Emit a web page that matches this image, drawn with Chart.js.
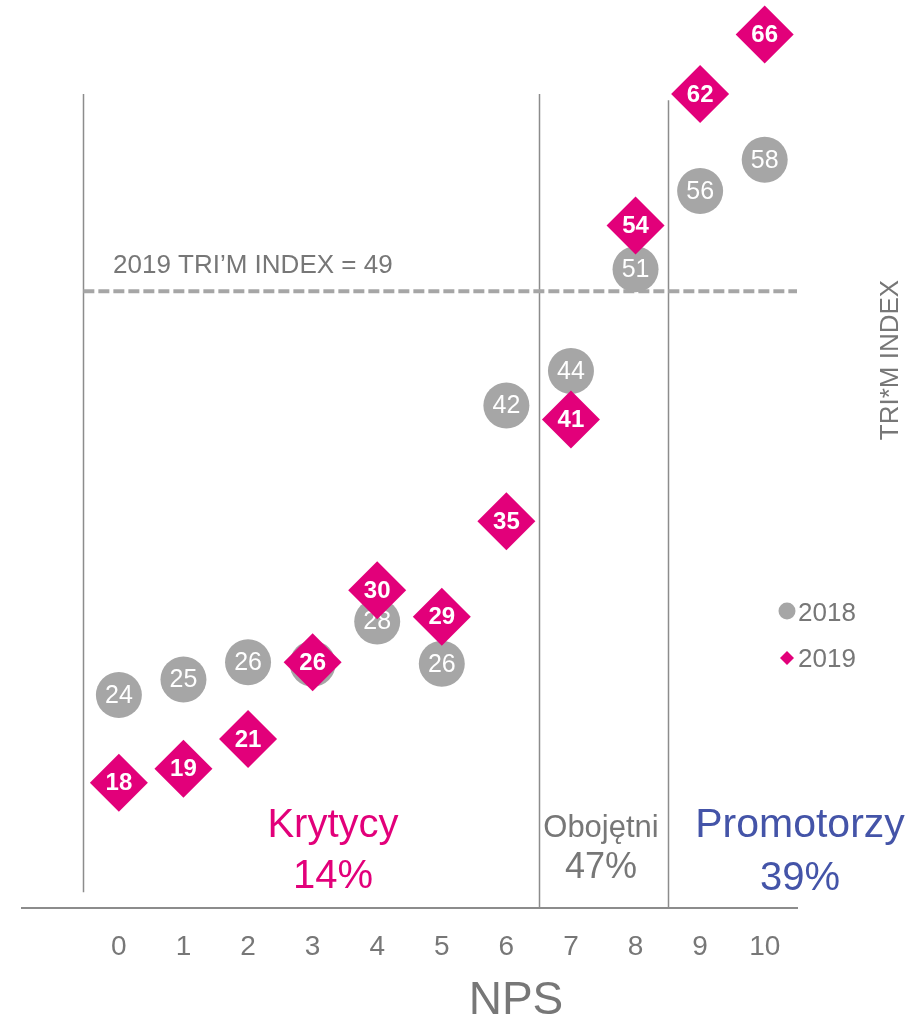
<!DOCTYPE html>
<html>
<head>
<meta charset="utf-8">
<script src="https://cdn.jsdelivr.net/npm/chart.js@4.4.1/dist/chart.umd.min.js"></script>
<style>
  html, body { margin: 0; padding: 0; background: #ffffff; }
  canvas { display: block; }
</style>
</head>
<body>
<canvas id="c" width="919" height="1021"></canvas>
<script>
// ---- data ----
const categories = [0, 1, 2, 3, 4, 5, 6, 7, 8, 9, 10];
const tickLabels = ['0', '1', '2', '3', '4', '5', '6', '7', '8', '9', '10'];
const seriesNames = ['2018', '2019'];
const values2018 = [23.6, 24.6, 25.7, 25.6, 28.3, 25.6, 42.1, 44.3, 50.8, 55.8, 57.8];
const values2019 = [18.0, 18.9, 20.8, 25.7, 30.3, 28.6, 34.7, 41.2, 53.6, 62.0, 65.8];
const indexValue = 49.4;
const indexLabel = '2019 TRI\u2019M INDEX';
const zoneNames = ['Krytycy', 'Obojętni', 'Promotorzy'];
const zoneShares = [14, 47, 39];
const zoneBounds = [-0.55, 6.5, 8.5];
const xTitle = 'NPS';
const yTitle = 'TRI*M INDEX';

// ---- styles ----
const FONT = '"Liberation Sans", Arial, Helvetica, sans-serif';
const MAGENTA = '#E2007A';
const GRAY_MARK = '#A6A6A6';
const GRAY_TEXT = '#777777';
const BLUE = '#4454A8';

const overlay = {
  id: 'overlay',
  beforeDatasetsDraw(chart) {
    const { ctx, scales: { x, y } } = chart;
    ctx.save();
    // zone separator lines
    ctx.strokeStyle = '#8c8c8c';
    ctx.lineWidth = 1.5;
    const seg = (px, y1, y2) => { ctx.beginPath(); ctx.moveTo(px, y1); ctx.lineTo(px, y2); ctx.stroke(); };
    seg(Math.round(x.getPixelForValue(zoneBounds[0])) + 0.5, y.getPixelForValue(62), y.getPixelForValue(11));
    seg(Math.round(x.getPixelForValue(zoneBounds[1])) + 0.5, y.getPixelForValue(62), y.getPixelForValue(y.min));
    seg(Math.round(x.getPixelForValue(zoneBounds[2])) + 0.5, y.getPixelForValue(61.6), y.getPixelForValue(y.min));

    // dashed index line
    const iy = y.getPixelForValue(indexValue);
    ctx.strokeStyle = '#A6A6A6';
    ctx.lineWidth = 4;
    ctx.setLineDash([11, 4]);
    ctx.beginPath();
    ctx.moveTo(x.getPixelForValue(zoneBounds[0]), iy);
    ctx.lineTo(x.getPixelForValue(x.max), iy);
    ctx.stroke();
    ctx.setLineDash([]);

    // index label
    ctx.fillStyle = GRAY_TEXT;
    ctx.font = '26px ' + FONT;
    ctx.textAlign = 'left';
    ctx.textBaseline = 'alphabetic';
    ctx.fillText(indexLabel + ' = ' + Math.round(indexValue), 113, iy - 18);

    // zone labels
    const zoneStyles = [
      { cx: 333, color: MAGENTA, f1: 40, b1: 837, f2: 40, b2: 888 },
      { cx: 601, color: GRAY_TEXT, f1: 31, b1: 837, f2: 36, b2: 878 },
      { cx: 800, color: BLUE, f1: 41, b1: 837, f2: 40, b2: 890 }
    ];
    ctx.textAlign = 'center';
    zoneNames.forEach((name, i) => {
      const s = zoneStyles[i];
      ctx.fillStyle = s.color;
      ctx.font = s.f1 + 'px ' + FONT;
      ctx.fillText(name, s.cx, s.b1);
      ctx.font = s.f2 + 'px ' + FONT;
      ctx.fillText(zoneShares[i] + '%', s.cx, s.b2);
    });
    ctx.restore();
  },
  afterDatasetDraw(chart, args) {
    const { ctx } = chart;
    const ds = chart.data.datasets[args.index];
    ctx.save();
    ctx.fillStyle = '#ffffff';
    ctx.textAlign = 'center';
    ctx.textBaseline = 'middle';
    ctx.font = (args.index === 1 ? 'bold 24px ' : '25px ') + FONT;
    args.meta.data.forEach((el, i) => {
      const v = ds.data[i].y;
      ctx.fillText(String(Math.round(v)), el.x, el.y + 1);
    });
    ctx.restore();
  },
  afterDraw(chart) {
    const { ctx } = chart;
    ctx.save();
    // legend
    ctx.fillStyle = GRAY_MARK;
    ctx.beginPath();
    ctx.arc(787, 611, 8.5, 0, Math.PI * 2);
    ctx.fill();
    ctx.fillStyle = MAGENTA;
    ctx.beginPath();
    ctx.moveTo(787, 651); ctx.lineTo(794, 658); ctx.lineTo(787, 665); ctx.lineTo(780, 658);
    ctx.closePath();
    ctx.fill();
    ctx.fillStyle = GRAY_TEXT;
    ctx.font = '26px ' + FONT;
    ctx.textAlign = 'left';
    ctx.textBaseline = 'alphabetic';
    ctx.fillText(seriesNames[0], 798, 621);
    ctx.fillText(seriesNames[1], 798, 667);

    // x title
    ctx.font = '46px ' + FONT;
    ctx.textAlign = 'center';
    ctx.fillText(xTitle, 516, 1014);

    // rotated y title
    ctx.translate(891, 360);
    ctx.rotate(-Math.PI / 2);
    ctx.font = '26px ' + FONT;
    ctx.textBaseline = 'middle';
    ctx.fillText(yTitle, 0, 0);
    ctx.restore();
  }
};

const toPoints = vals => categories.map((c, i) => ({ x: c, y: vals[i] }));

new Chart(document.getElementById('c'), {
  type: 'scatter',
  data: {
    datasets: [
      {
        label: seriesNames[0],
        data: toPoints(values2018),
        pointStyle: 'circle',
        pointRadius: 23,
        pointHoverRadius: 23,
        backgroundColor: GRAY_MARK,
        borderWidth: 0,
        clip: false,
        order: 1
      },
      {
        label: seriesNames[1],
        data: toPoints(values2019),
        pointStyle: 'rectRot',
        pointRadius: 29,
        pointHoverRadius: 29,
        backgroundColor: MAGENTA,
        borderWidth: 0,
        clip: false,
        order: 0
      }
    ]
  },
  options: {
    responsive: false,
    animation: false,
    events: [],
    layout: { autoPadding: false, padding: { left: 22, right: 122, top: 0, bottom: 0 } },
    plugins: { legend: { display: false }, tooltip: { enabled: false } },
    scales: {
      x: {
        type: 'linear',
        min: -1.5,
        max: 10.5,
        grid: { display: false, drawTicks: false },
        border: { display: true, color: '#8c8c8c', width: 2 },
        afterBuildTicks: s => { s.ticks = categories.map(v => ({ value: v })); },
        afterFit: s => { s.height = 113; },
        ticks: {
          padding: 22,
          color: GRAY_TEXT,
          font: { family: FONT, size: 28 },
          callback: (v) => tickLabels[categories.indexOf(v)] ?? ''
        }
      },
      y: {
        display: false,
        min: 10,
        max: 68
      }
    }
  },
  plugins: [overlay]
});
</script>
</body>
</html>
